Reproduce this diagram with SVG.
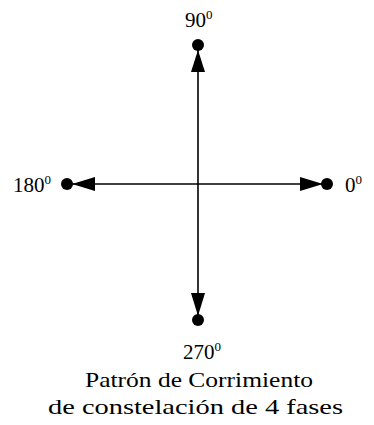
<svg xmlns="http://www.w3.org/2000/svg" width="374" height="425" viewBox="0 0 374 425">
<style>
.t{font-family:"Liberation Serif","Times New Roman",serif;font-size:21px;fill:#000}
.s{font-size:13px}
.ln{stroke:#000;stroke-width:1.6;fill:none}
.hd{fill:#000}
</style>
<rect width="374" height="425" fill="#fff"/>
<g id="connectors">
<line class="ln" x1="198" y1="46" x2="198" y2="320"/>
<line class="ln" x1="68" y1="184" x2="327" y2="184"/>
<polygon class="hd" points="198,50 191,72 205,72"/>
<polygon class="hd" points="198,316 191,293 205,293"/>
<polygon class="hd" points="72,184 95,177 95,191"/>
<polygon class="hd" points="323,184 300,177 300,191"/>
</g>
<g id="n90"><circle cx="198" cy="45" r="6"/><text class="t" x="185" y="27">90<tspan class="s" dy="-8">0</tspan></text></g>
<g id="n180"><circle cx="67" cy="184" r="6"/><text class="t" x="13" y="192">180<tspan class="s" dy="-8">0</tspan></text></g>
<g id="n0"><circle cx="327" cy="184" r="6"/><text class="t" x="345" y="192">0<tspan class="s" dy="-8">0</tspan></text></g>
<g id="n270"><circle cx="198" cy="320" r="6"/><text class="t" x="183" y="359">270<tspan class="s" dy="-8">0</tspan></text></g>
<g id="caption">
<text class="t" x="85" y="387" textLength="228" lengthAdjust="spacingAndGlyphs">Patrón de Corrimiento</text>
<text class="t" x="48" y="414" textLength="295" lengthAdjust="spacingAndGlyphs">de constelación de 4 fases</text>
</g>
</svg>
